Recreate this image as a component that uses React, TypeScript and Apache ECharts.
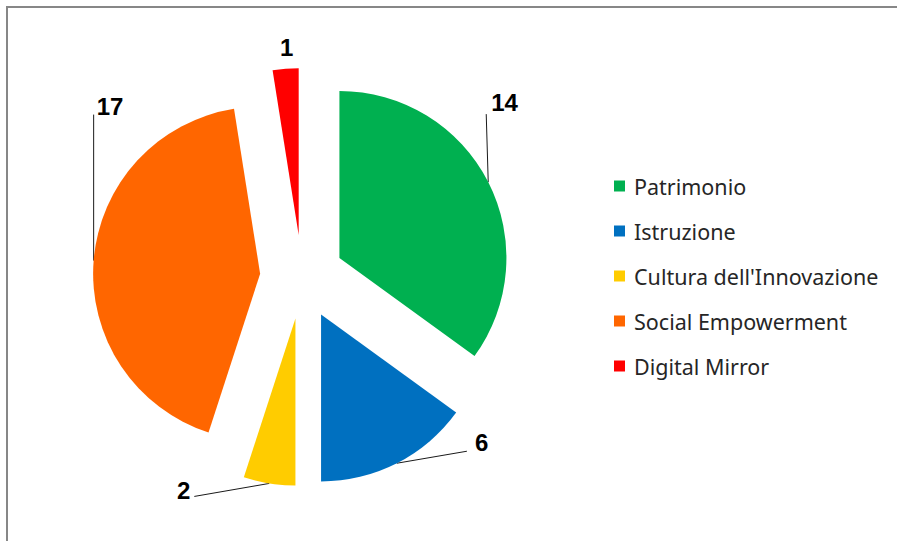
import React, { useEffect, useRef } from "react";
import * as echarts from "echarts";

const categories = [
  "Patrimonio",
  "Istruzione",
  "Cultura dell'Innovazione",
  "Social Empowerment",
  "Digital Mirror",
];
const values = [14, 6, 2, 17, 1];
const colors = ["#00B050", "#0070C0", "#FFCC00", "#FF6600", "#FF0000"];

// leader-line geometry, relative to the arc midpoint of each slice
const guides: { bend: number[] | null; text: number[]; align: string }[] = [
  { bend: [-2, -68], text: [3, -80], align: "left" },
  { bend: [70, -12], text: [78, -21], align: "left" },
  { bend: [-75, 13], text: [-79, 7], align: "right" },
  { bend: [0, -146], text: [3, -154], align: "left" },
  { bend: null, text: [1, -21], align: "center" },
];

export default function App() {
  const ref = useRef<HTMLDivElement>(null);
  useEffect(() => {
    if (!ref.current) return;
    const chart = echarts.init(ref.current, undefined, { renderer: "svg" });
    chart.setOption({
      animation: false,
      backgroundColor: "#ffffff",
      graphic: [
        {
          type: "rect",
          shape: { x: 7, y: 7, width: 920, height: 560 },
          style: { fill: "none", stroke: "#878787", lineWidth: 2 },
          silent: true,
        },
      ],
      legend: {
        orient: "vertical",
        left: 609,
        top: 169,
        icon: "rect",
        itemWidth: 11,
        itemHeight: 11,
        itemGap: 21,
        selectedMode: false,
        data: categories,
        textStyle: {
          fontFamily: "Noto Sans",
          fontSize: 21.5,
          lineHeight: 24,
          color: "#262626",
          padding: [0, 0, 0, 4],
        },
      },
      series: [
        {
          type: "pie",
          center: [302, 277],
          radius: 167,
          startAngle: 90,
          clockwise: true,
          selectedMode: "multiple",
          selectedOffset: 42,
          emphasis: { disabled: true },
          avoidLabelOverlap: false,
          label: {
            show: true,
            position: "outside",
            formatter: "{c}",
            fontFamily: "Liberation Sans",
            fontWeight: "bold",
            fontSize: 24,
            color: "#000000",
          },
          labelLine: {
            show: true,
            length: 20,
            length2: 20,
            lineStyle: { color: "#1a1a1a", width: 1 },
          },
          labelLayout: (params: any) => {
            const g = guides[params.dataIndex];
            const pts = params.labelLinePoints;
            const lr = params.labelRect;
            let sx: number, sy: number;
            if (pts && g.bend) {
              sx = pts[0][0];
              sy = pts[0][1];
            } else {
              sx = params.rect.x + params.rect.width / 2;
              sy = params.rect.y;
            }
            const tx = sx + g.text[0];
            const ty = sy + g.text[1];
            let dx: number;
            if (g.align === "left") dx = tx - lr.x;
            else if (g.align === "right") dx = tx - (lr.x + lr.width);
            else dx = tx - (lr.x + lr.width / 2);
            const dy = ty - (lr.y + lr.height / 2);
            const res: any = { dx, dy };
            if (g.bend) {
              res.labelLinePoints = [
                [sx, sy],
                [sx + g.bend[0], sy + g.bend[1]],
                [sx + g.bend[0], sy + g.bend[1]],
              ];
            }
            return res;
          },
          data: categories.map((name, i) => ({
            name,
            value: values[i],
            selected: true,
            itemStyle: { color: colors[i] },
            labelLine: { show: guides[i].bend !== null },
          })),
        },
      ],
    });
    return () => chart.dispose();
  }, []);
  return (
    <div
      ref={ref}
      style={{ position: "fixed", left: 0, top: 0, width: 897, height: 541 }}
    />
  );
}
